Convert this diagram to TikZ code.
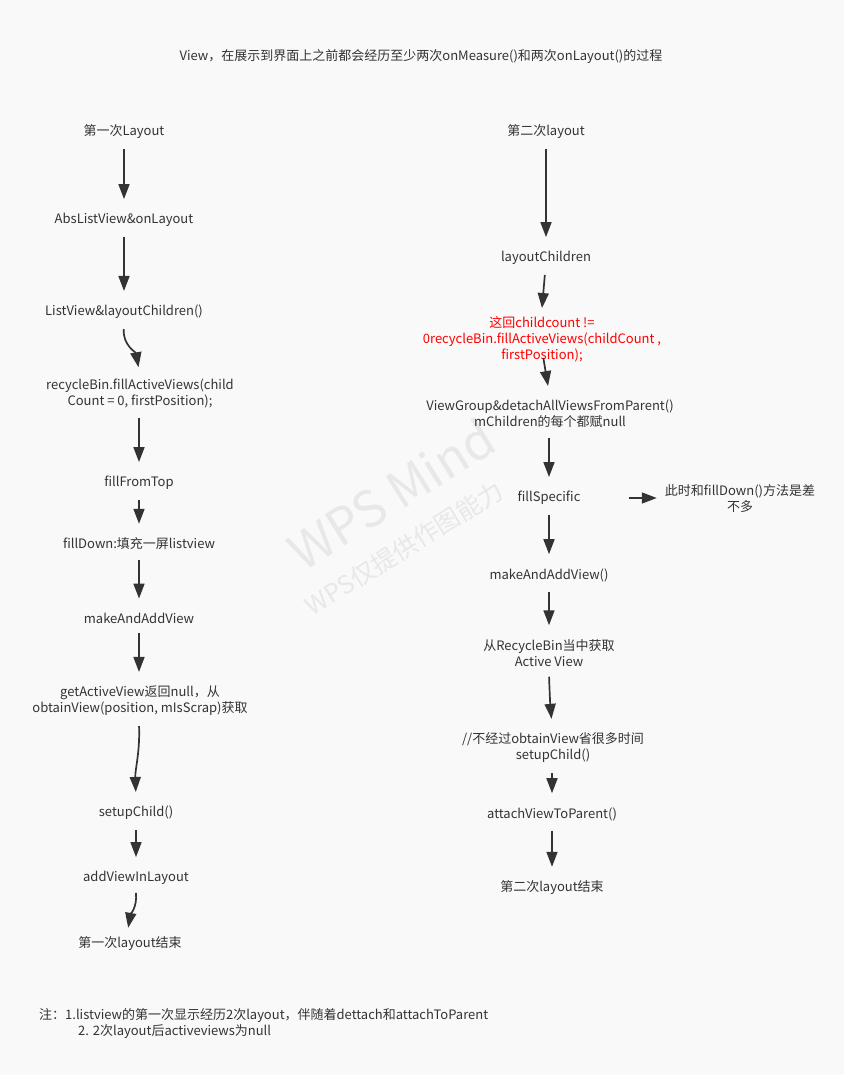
\documentclass[tikz,border=0pt]{standalone}
\usepackage{fontspec}
\setmainfont{Noto Sans CJK SC}
\usetikzlibrary{arrows.meta}
\definecolor{ink}{HTML}{333333}
\definecolor{paper}{HTML}{F9F9F9}
\definecolor{wmark}{HTML}{E8E8E8}
\definecolor{hot}{HTML}{FF0000}

\begin{document}
\begin{tikzpicture}[x=1pt, y=-1pt,
  every node/.style={font=\fontsize{13}{16}\selectfont, text=ink, align=center, inner sep=8pt, yshift=-2pt},
  flow/.style={draw=ink, line width=1.7pt, -{Triangle[length=15pt,width=11pt]}, shorten <=2pt, shorten >=6pt}]

  % Page
  \fill[paper] (0,0) rectangle (844,1075);
  \useasboundingbox (0,0) rectangle (844,1075);

  % Watermark
  \node[rotate=32, text=wmark, inner sep=0pt, font=\fontsize{50}{54}\selectfont] (wm) at (391,492) {WPS Mind};
  \node[rotate=32, text=wmark, inner sep=0pt, font=\fontsize{25}{28}\selectfont] (wmsub) at (404,546) {WPS仅提供作图能力};

  % Title
  \node (title) at (421,55) {View，在展示到界面上之前都会经历至少两次onMeasure()和两次onLayout()的过程};

  % First layout pass
  \node (a1) at (124,130) {第一次Layout};
  \node (a2) at (124,218) {AbsListView\&onLayout};
  \node (a3) at (124,310) {ListView\&layoutChildren()};
  \node (a4) at (140,391) {recycleBin.fillActiveViews(child\\Count = 0, firstPosition);};
  \node (a5) at (139,481) {fillFromTop};
  \node (a6) at (139,542) {fillDown:填充一屏listview};
  \node (a7) at (139,616) {makeAndAddView};
  \node (a8) at (140,699) {getActiveView返回null，从\\obtainView(position, mIsScrap)获取};
  \node (a9) at (136,811) {setupChild()};
  \node (a10) at (136,876) {addViewInLayout};
  \node (a11) at (130,942) {第一次layout结束};

  \draw[flow] (a1) -- (a2);
  \draw[flow] (a2) -- (a3);
  \draw[flow, shorten >=3pt] (a3.south) to[out=-95,in=100] ([xshift=-1pt]a4.north);
  \draw[flow] ([xshift=-1pt]a4.south) -- (a5);
  \draw[flow] (a5) -- (a6);
  \draw[flow] (a6) -- (a7);
  \draw[flow] (a7) -- ([xshift=-1pt]a8.north);
  \draw[flow] ([xshift=-1pt]a8.south) to[out=-88,in=92] (a9.north);
  \draw[flow] (a9) -- (a10);
  \draw[flow, shorten <=0pt, shorten >=1pt] (a10.south) to[out=-85,in=80] ([xshift=-2pt]a11.north);

  % Second layout pass
  \node (b1) at (546,130) {第二次layout};
  \node (b2) at (546,256) {layoutChildren};
  \node[text=hot] (b3) at (542,337) {这回childcount !=\\0recycleBin.fillActiveViews(childCount ,\\firstPosition);};
  \node (b4) at (550,412) {ViewGroup\&detachAllViewsFromParent()\\mChildren的每个都赋null};
  \node (b5) at (549,496) {fillSpecific};
  \node (note) at (740,497) {此时和fillDown()方法是差\\不多};
  \node (b6) at (549,573) {makeAndAddView()};
  \node (b7) at (549,651) {从RecycleBin当中获取\\Active View};
  \node (b8) at (553,746) {//不经过obtainView省很多时间\\setupChild()};
  \node (b9) at (552,812) {attachViewToParent()};
  \node (b10) at (552,886) {第二次layout结束};

  \draw[flow] (b1) -- (b2);
  \draw[flow, shorten >=0pt] ([xshift=-1pt]b2.south) -- (b3.north);
  \draw[flow] ([xshift=1pt,yshift=14pt]b3.south) -- ([xshift=-1pt]b4.north);
  \draw[flow] ([xshift=-1pt]b4.south) -- (b5);
  \draw[flow, shorten <=0pt, shorten >=0pt] ([xshift=40pt]b5.east) -- (note.west |- b5.east);
  \draw[flow] (b5) -- (b6);
  \draw[flow] (b6) -- (b7);
  \draw[flow] (b7.south) to[out=-88,in=95] ([xshift=-1pt]b8.north);
  \draw[flow] ([xshift=-1pt]b8.south) -- (b9);
  \draw[flow] (b9) -- (b10);

  % Footnote
  \node[anchor=west, align=left, inner sep=0pt] (foot) at (39,1022)
    {注：1.listview的第一次显示经历2次layout，伴随着dettach和attachToParent\\\hspace*{39pt}2. 2次layout后activeviews为null};
\end{tikzpicture}
\end{document}
